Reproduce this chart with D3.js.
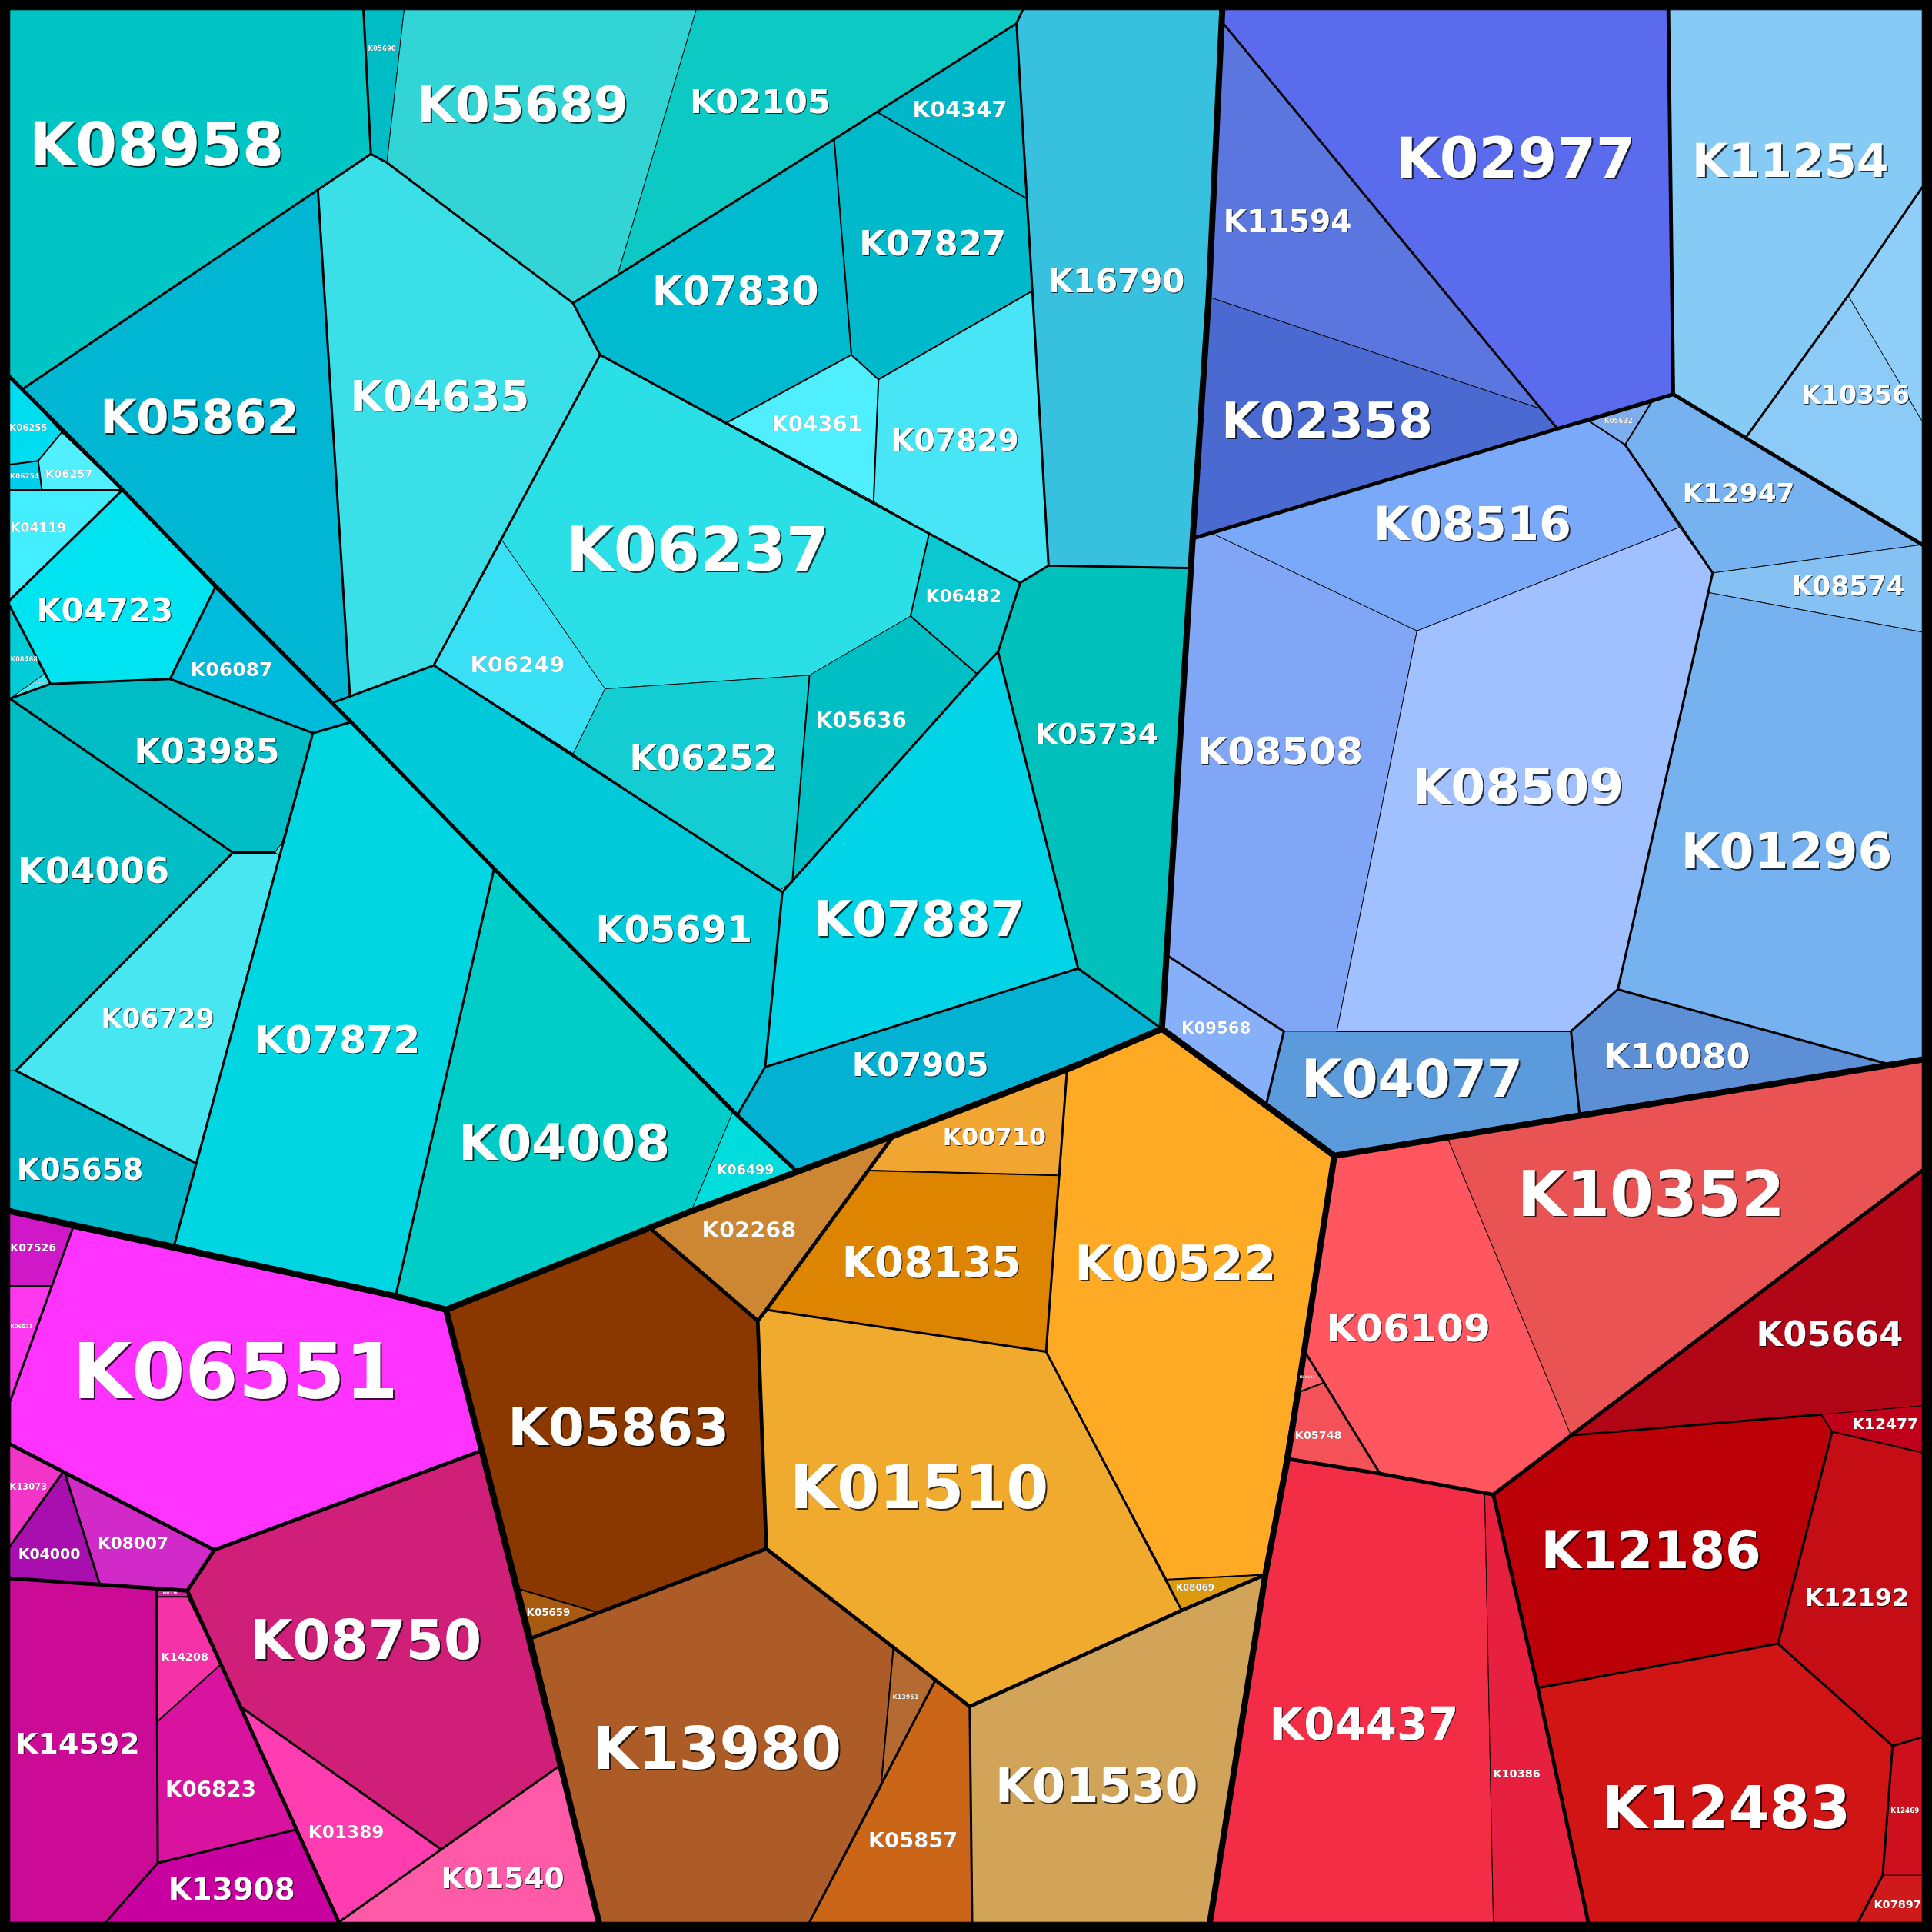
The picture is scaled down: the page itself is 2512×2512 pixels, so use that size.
<!DOCTYPE html>
<html><head><meta charset="utf-8">
<style>html,body{margin:0;padding:0;background:#000}svg{display:block}</style>
<script src="https://cdn.jsdelivr.net/npm/d3@7"></script></head><body>
<svg id="c" width="2512" height="2512"></svg>
<script>
// Each row: name, colour, polygon, label centre x, label centre y, label width (picture units, 0..1568)
const tealCells = [
["K08958","#00C5C5",[[8,8],[295,8],[301,125],[258,154],[18,316],[8,306]],127,118,205],
["K05690","#00BCC4",[[295,8],[328,8],[314,132],[301,125]],310,40,22.5],
["K05689","#33D4D6",[[328,8],[565,8],[501,224],[465,246],[314,132]],424,85,170],
["K02105","#0DC9C3",[[565,8],[830,8],[825,19],[712,91],[677,113],[501,224]],617,83,113],
["K04347","#00B6C9",[[825,19],[833,161],[712,91]],779,89,76],
["K07827","#00B9CB",[[677,113],[712,91],[833,161],[838,236],[713,308],[691,288]],757,198,118],
["K07830","#00BBD0",[[465,246],[501,224],[677,113],[691,288],[590,343],[487,288]],597,237,134],
["K04361","#4FEFFF",[[590,343],[691,288],[713,308],[709,407]],663,345,73],
["K07829","#48E5F7",[[713,308],[838,236],[851,459],[828,473],[754,433],[709,407]],775,358,103],
["K16790","#38C1DE",[[825,19],[830,8],[992,8],[981,241],[965,461],[851,459],[838,236],[833,161]],906,229,110],
["K05734","#00C0BC",[[851,459],[965,461],[943,835],[875,786],[810,529],[828,473]],890,596,99],
["K06482","#0BC7D0",[[754,433],[828,473],[810,529],[793,547],[739,500]],782,484,61],
["K06237","#2AE0E6",[[487,288],[590,343],[709,407],[754,433],[739,500],[657,548],[491,559],[407,438]],566,446,212],
["K06249","#38DFF5",[[407,438],[491,559],[465,612],[352,540]],420,540,76],
["K06252","#14CDD2",[[491,559],[657,548],[643,716],[632,723],[465,612]],571,616,119],
["K05636","#00BFC4",[[657,548],[739,500],[793,547],[643,716]],699,585,73],
["K07887","#00D4E6",[[793,547],[810,529],[875,786],[621,866],[635,724],[643,716]],746,746,170],
["K07905","#03B2D3",[[621,866],[875,786],[943,835],[647,951],[599,904]],747,865,110],
["K05691","#00C9D9",[[352,540],[465,612],[632,723],[635,724],[621,866],[599,904],[285,586],[271,570]],547,755,126],
["K04635","#3BDFE8",[[301,125],[314,132],[465,246],[487,288],[352,540],[284,565],[258,154]],357,322,144],
["K05862","#00B6D2",[[18,316],[258,154],[284,565],[271,570]],162,339,160],
["K06255","#00DCF0",[[8,305],[50,351],[31,374],[8,377]],23,347.5,30.5],
["K06257","#52EFFF",[[50,351],[99,398],[34,398],[31,374]],56,385,38],
["K06254","#00CDEB",[[8,377],[31,374],[34,398],[8,398]],20,387,23.5],
["K04119","#42EEFF",[[8,398],[99,398],[8,486]],31,429,45],
["K04723","#00E3F0",[[8,487],[99,398],[175,476],[138,551],[41,555],[8,492]],85,496,110],
["K08468","#00CDD8",[[8,492],[36,547],[8,567]],19.5,535.5,22],
["K08469","#3CE8F2",[[36,547],[41,555],[8,567]],33,555,8],
["K06087","#00BCDC",[[175,476],[285,586],[254,595],[138,551]],188,544,66],
["K03985","#00BCC4",[[8,567],[41,555],[138,551],[254,595],[229,684],[223,692],[189,692]],168,610,117],
["K04006","#00BDC6",[[8,567],[189,692],[13,869],[8,869]],76,707,122],
["K06729","#48E6F0",[[189,692],[223,692],[227,694],[159,944],[13,869]],128,827,91],
["K05658","#00B7C9",[[8,869],[13,869],[159,944],[141,1012],[8,983]],65,950,102],
["K07872","#00D6E2",[[254,595],[285,586],[401,705],[321,1052],[141,1012],[159,944],[227,694],[229,684]],274,844,133],
["K04008","#00CDC8",[[401,705],[595,902],[561,983],[362,1063],[321,1052]],458,928,170],
["K06499","#00DDDC",[[595,902],[647,951],[561,983]],605,950,46],
["","#3CE8F2",[[229,684],[223,692],[227,694]],0,0,0],
["","#3CE8E8",[[632,723],[643,716],[635,724]],0,0,0]
];
const blueCells = [
["K02977","#5A6BEE",[[992,8],[1354,8],[1358,320],[1264,348],[1251,332],[992,18]],1230,129,192],
["K11594","#5B76DF",[[992,18],[1251,332],[981,241]],1045,180,103],
["K02358","#4A6AD2",[[981,241],[1251,332],[1264,348],[968,437]],1077,342,170],
["K05632","#7FAEEE",[[1290,342],[1340,327],[1319,361]],1313.5,342,23],
["K11254","#85CBF5",[[1354,8],[1560,8],[1560,152],[1500,240],[1417,355],[1358,320]],1453,131,158],
["","#90CEFA",[[1560,152],[1560,342],[1500,240]],0,0,0],
["K10356","#8CCAF8",[[1500,240],[1560,342],[1560,442],[1417,355]],1506,321,87],
["K12947","#76B2F0",[[1319,361],[1340,327],[1358,320],[1417,355],[1560,442],[1390,465],[1363,428]],1411,401,90],
["K08516","#7AA9FA",[[1264,348],[1290,342],[1319,361],[1363,428],[1150,512],[984,433],[968,437]],1195,426,159],
["K08508","#82A6F6",[[968,437],[984,433],[1150,512],[1085,837],[1042,837],[945,774]],1039,610,133],
["K08509","#A0C0FF",[[1150,512],[1363,428],[1390,465],[1387,481],[1313,803],[1275,837],[1085,837]],1232,639,170],
["K08574","#85C1F2",[[1390,465],[1560,442],[1560,513],[1387,481]],1500,476,91],
["K01296","#76B2F0",[[1387,481],[1560,513],[1560,860],[1530,863],[1313,803]],1450,691,170],
["K09568","#86B0FA",[[945,774],[1042,837],[1028,895],[943,835]],987,835,56],
["K04077","#5B9ADB",[[1042,837],[1085,837],[1275,837],[1282,905],[1083,938],[1028,895]],1146,876,178],
["K10080","#5C8FD6",[[1275,837],[1313,803],[1530,863],[1282,905]],1361,858,118]
];
const orangeCells = [
["K00710","#F2A632",[[725,922],[866,868],[860,954],[705,950]],807,923,83],
["K08135","#DD8400",[[705,950],[860,954],[849,1097],[622,1063]],756,1025,144],
["K02268","#CD8732",[[647,951],[725,922],[705,950],[622,1063],[615,1072],[529,998]],608,999,76],
["K00522","#FFAA25",[[866,868],[943,835],[1083,938],[1027,1278],[947,1282],[849,1097],[860,954]],954,1026,162],
["K01510","#F0AB2E",[[622,1063],[849,1097],[947,1282],[959,1307],[787,1385],[759,1364],[725,1338],[622,1257],[615,1072]],746,1208,208],
["K08069","#DD9A0F",[[947,1282],[1027,1278],[959,1307]],970,1289,31],
["K05863","#8B3800",[[362,1063],[529,998],[615,1072],[622,1257],[486,1309],[419,1289]],502,1159,178],
["K05659","#A85A10",[[419,1289],[486,1309],[430,1330]],445,1309,35],
["K13980","#AD5C28",[[430,1330],[486,1309],[622,1257],[725,1338],[715,1450],[657,1560],[486,1560]],582,1420,200],
["K13951","#B46A30",[[725,1338],[759,1364],[715,1450]],735,1378,21],
["K05857","#CB6518",[[759,1364],[787,1385],[789,1560],[657,1560],[715,1450]],741,1494,72],
["K01530","#D2A45A",[[787,1385],[959,1307],[1027,1278],[982,1560],[789,1560]],890,1450,163]
];
const redCells = [
["K06109","#FF5660",[[1083,938],[1175,924],[1275,1165],[1212,1213],[1120,1196],[1075,1122],[1059,1097]],1143,1078,132],
["K10352","#E95353",[[1175,924],[1560,860],[1560,950],[1275,1165]],1340,970,215],
["K05664","#B00615",[[1560,950],[1560,1141],[1478,1148],[1275,1165]],1485,1083,118],
["K12477","#C0001A",[[1478,1148],[1560,1141],[1560,1179],[1487,1162]],1530,1156,53],
["K12186","#BC0008",[[1212,1213],[1275,1165],[1478,1148],[1487,1162],[1443,1334],[1248,1370]],1340,1259,177],
["K12192","#C40D14",[[1487,1162],[1560,1179],[1560,1410],[1536,1417],[1443,1334]],1507,1297,84],
["K12483","#D11515",[[1248,1370],[1443,1334],[1536,1417],[1528,1522],[1508,1560],[1289,1560]],1401,1468,200],
["K12469","#CE101E",[[1536,1417],[1560,1410],[1560,1522],[1528,1522]],1546,1470,23],
["K07897","#CF1A1C",[[1528,1522],[1560,1522],[1560,1560],[1508,1560]],1540,1546,38],
["K04437","#F22D45",[[1045,1184],[1120,1196],[1205,1212],[1212,1560],[982,1560],[1027,1278]],1107,1400,152],
["K10386","#E72040",[[1205,1212],[1212,1213],[1248,1370],[1289,1560],[1212,1560]],1231,1440,38],
["K05748","#F45258",[[1054,1130],[1075,1122],[1120,1196],[1045,1184]],1070,1165.5,37.5],
["K05627","#FF6068",[[1059,1097],[1075,1122],[1054,1130]],1061,1118.5,12.5]
];
const magentaCells = [
["K07526","#D118C8",[[8,984],[59,997],[42,1044],[8,1044]],27,1013,37],
["K06521","#FF38F0",[[8,1044],[42,1044],[8,1138]],17.5,1077.5,18],
["K06551","#FF33FF",[[59,997],[362,1063],[389,1178],[174,1258],[8,1172],[8,1138]],191,1114,262],
["K13073","#F334C8",[[8,1172],[51,1195],[8,1255]],23,1207,30],
["K04000","#A80FAE",[[8,1255],[51,1195],[53,1197],[81,1286],[8,1281]],40,1261.5,50],
["K08007","#D22AC8",[[53,1197],[174,1258],[152,1291],[81,1286]],108,1253,57],
["K08750","#D01F78",[[174,1258],[389,1178],[453,1434],[358,1501],[195,1385],[152,1291]],297,1332,186],
["K14592","#CB0A95",[[8,1281],[127,1289],[127,1296],[128,1397],[128,1512],[86,1560],[8,1560]],63,1416,100],
["K01278","#D020A0",[[127,1289],[152,1291],[152,1296],[127,1296]],138,1293.5,12],
["K14208","#F532A8",[[127,1296],[152,1296],[179,1351],[128,1397]],150,1345,38],
["K06823","#DA12A0",[[128,1397],[179,1351],[195,1385],[240,1485],[128,1512]],171,1453,73],
["K13908","#C800A0",[[128,1512],[240,1485],[275,1560],[86,1560]],188,1534,102],
["K01389","#FF3CB0",[[195,1385],[358,1501],[275,1560],[240,1485]],281,1487,61],
["K01540","#FF5AA8",[[358,1501],[453,1434],[486,1560],[275,1560]],408,1525,99]
];
// Borders between groups of cells, heaviest last
const topBorders = [
[[992,8],[981,241],[968,437],[943,835],[1083,938],[1560,860]],
[[8,983],[141,1012],[321,1052],[362,1063],[561,983],[647,951],[725,922],[866,868],[943,835]],
[[362,1063],[430,1330],[486,1560]],
[[1083,938],[1045,1184],[1027,1278],[982,1560]]
];
const groupBorders = [
[[8,306],[100,398],[175,476],[285,586],[401,705],[595,902],[647,951]],
[[968,437],[1264,348],[1358,320],[1560,442]],
[[1354,8],[1358,320]],
[[529,998],[615,1072],[622,1257],[430,1330]],
[[622,1257],[787,1385],[959,1307],[1027,1278]],
[[615,1072],[622,1063],[725,922]],
[[1212,1213],[1120,1196],[1045,1184]],
[[1212,1213],[1275,1165],[1560,950]],
[[1212,1213],[1248,1370],[1289,1560]],
[[8,1172],[174,1258],[389,1178]],
[[8,1281],[152,1291],[174,1258]],
[[152,1291],[195,1385],[275,1560]]
];
const midBorders = [
[[18,316],[258,154],[301,125],[314,132],[465,246],[677,113],[825,19],[830,8]],
[[301,125],[295,8]],
[[8,398],[100,398]],[[99,398],[8,487]],
[[8,492],[41,555],[138,551],[175,476]],
[[41,555],[8,567]],
[[138,551],[254,595],[285,586]],
[[254,595],[141,1012]],
[[8,567],[189,692],[223,692]],
[[189,692],[13,869],[159,944]],
[[401,705],[321,1052]],
[[271,570],[352,540],[487,288],[465,246]],
[[352,540],[635,724]],
[[825,19],[851,459],[965,461]],
[[851,459],[828,473],[810,529],[875,786],[943,835]],
[[875,786],[621,866],[599,904]],
[[621,866],[635,724],[793,547],[810,529]],
[[487,288],[754,433],[828,473]],
[[258,154],[284,565]],
[[992,18],[1264,348]],
[[1417,355],[1500,240],[1560,152]],
[[1358,320],[1417,355]],
[[1319,361],[1390,465],[1313,803],[1275,837]],
[[945,774],[1042,837],[1028,895]],
[[1313,803],[1530,863]],
[[1275,837],[1282,905]],
[[622,1063],[849,1097],[959,1307]],
[[866,868],[849,1097]],
[[759,1364],[657,1560]],
[[787,1385],[789,1560]],
[[1059,1097],[1120,1196]],
[[1478,1148],[1275,1165]],
[[1487,1162],[1443,1334],[1248,1370]],
[[1443,1334],[1536,1417],[1528,1522],[1508,1560]],
[[1560,1410],[1536,1417]],
[[8,1172],[8,1138],[59,997]],
[[53,1197],[81,1286]],
[[51,1195],[8,1255]],
[[127,1289],[128,1512],[86,1560]],
[[358,1501],[195,1385]],
[[358,1501],[275,1560]],
[[358,1501],[453,1434]],
[[128,1512],[240,1485]],
[[8,1044],[42,1044]]
];
const thinBorders = [
[[712,91],[833,161]],[[838,236],[713,308],[691,288],[677,113]],[[691,288],[590,343]],[[713,308],[709,407]],
[[739,500],[793,547]],[[754,433],[739,500]],[[657,548],[643,716]],
[[352,540],[407,438]],[[465,612],[352,540]],
[[50,351],[31,374],[34,398]],[[8,377],[31,374]],
[[1340,327],[1319,361],[1290,342]],[[1085,837],[1275,837]],
[[705,950],[860,954]],[[419,1289],[486,1309]],[[725,1338],[715,1450],[657,1560]],
[[947,1282],[1027,1278]],[[1054,1130],[1075,1122]],
[[1478,1148],[1487,1162],[1560,1179]],
[[128,1397],[179,1351]],[[127,1296],[152,1296]]
];
const allCells = [...tealCells, ...blueCells, ...orangeCells, ...redCells, ...magentaCells];

const x = d3.scaleLinear().domain([0,1568]).range([0,2512]);
const y = d3.scaleLinear().domain([0,1568]).range([0,2512]);
const line = d3.line().x(d=>x(d[0])).y(d=>y(d[1]));
const svg = d3.select("#c");
svg.append("rect").attr("width",2512).attr("height",2512).attr("fill","#000");

svg.append("g").selectAll("path").data(allCells).join("path")
  .attr("d",d=>line(d[2])+"Z").attr("fill",d=>d[1])
  .attr("stroke","#000").attr("stroke-width",0.9).attr("stroke-linejoin","round");

function borders(data,w){
  svg.append("g").selectAll("path").data(data).join("path")
    .attr("d",line).attr("fill","none").attr("stroke","#000")
    .attr("stroke-width",w).attr("stroke-linejoin","round").attr("stroke-linecap","round");
}
borders(thinBorders,2);
borders(midBorders,3);
borders(groupBorders,4.8);
borders(topBorders,8);

// frame
svg.append("rect").attr("x",6).attr("y",6).attr("width",2500).attr("height",2500)
  .attr("fill","none").attr("stroke","#000").attr("stroke-width",12);

// DejaVu Sans Bold advance widths: K .775em, digit .696em
const emWidth = (0.775 + 5*0.696) * 0.99;
const fontSize = d3.scaleLinear().domain([0,emWidth]).range([0,x(1)]);
svg.append("g").selectAll("text").data(allCells.filter(d=>d[0])).join("text")
  .text(d=>d[0])
  .attr("x",d=>x(d[3])).attr("y",d=>y(d[4])-1)
  .attr("text-anchor","middle").attr("dominant-baseline","central")
  .attr("font-family","'DejaVu Sans'").attr("font-weight","bold").attr("fill","#fff")
  .attr("font-size",d=>fontSize(d[5]))
  .style("filter",d=>{const o=Math.min(2,Math.max(.4,fontSize(d[5])/30));return `drop-shadow(${o}px ${o}px 0.5px rgba(0,0,0,.75))`;});
</script></body></html>
